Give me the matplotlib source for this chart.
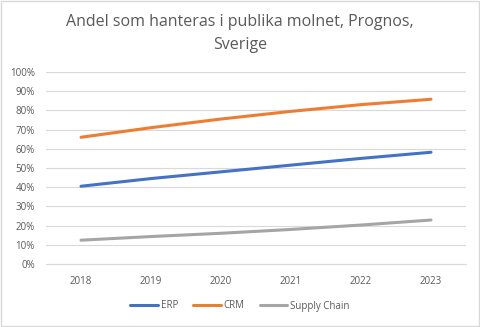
import matplotlib.pyplot as plt
from matplotlib.patches import Rectangle
from matplotlib.ticker import PercentFormatter

years = ['2018', '2019', '2020', '2021', '2022', '2023']
erp = [40.5, 44.5, 48.0, 51.5, 55.0, 58.2]
crm = [66.0, 71.0, 75.5, 79.5, 83.0, 85.8]
supply_chain = [12.4, 14.3, 16.0, 18.0, 20.3, 22.9]

series = [
    ('ERP', erp, '#4472C4'),
    ('CRM', crm, '#ED7D31'),
    ('Supply Chain', supply_chain, '#A5A5A5'),
]

plt.rcParams['font.family'] = ['Open Sans', 'DejaVu Sans']
text_color = '#595959'
grid_color = '#D9D9D9'

fig = plt.figure(figsize=(4.8, 3.27), dpi=100)
ax = fig.add_axes([46 / 480, 1 - 264 / 327, 420 / 480, 192 / 327])

xs = range(len(years))
for name, values, color in series:
    ax.plot(xs, [v / 100 for v in values], color=color, lw=2.2,
            solid_capstyle='round', label=name)

ax.set_xlim(-0.5, len(years) - 0.5)
ax.set_ylim(0, 1)
ax.set_yticks([i / 10 for i in range(11)])
ax.yaxis.set_major_formatter(PercentFormatter(1.0, decimals=0))
ax.set_xticks(list(xs))
ax.set_xticklabels(years)

ax.grid(axis='y', color=grid_color, lw=0.8)
ax.set_axisbelow(True)
for side in ['left', 'right', 'top']:
    ax.spines[side].set_visible(False)
ax.spines['bottom'].set_color(grid_color)
ax.tick_params(length=0, labelsize=7, colors=text_color)
ax.tick_params(axis='y', pad=8)
ax.tick_params(axis='x', pad=9)

fig.text(0.5, 1 - 22 / 327, 'Andel som hanteras i publika molnet, Prognos,',
         ha='center', va='center', fontsize=11.5, color=text_color)
fig.text(0.5, 1 - 45 / 327, 'Sverige',
         ha='center', va='center', fontsize=11.5, color=text_color)

fig.legend(loc='center', bbox_to_anchor=(0.5, 1 - 306 / 327), ncol=3,
           frameon=False, fontsize=7, labelcolor=text_color,
           handlelength=2.8, handletextpad=0.3, columnspacing=1.6)

fig.patches.append(Rectangle((0.002, 0.003), 0.995, 0.994, transform=fig.transFigure,
                             fill=False, edgecolor='#D9D9D9', lw=1))

fig.savefig('out.png', dpi=100)
